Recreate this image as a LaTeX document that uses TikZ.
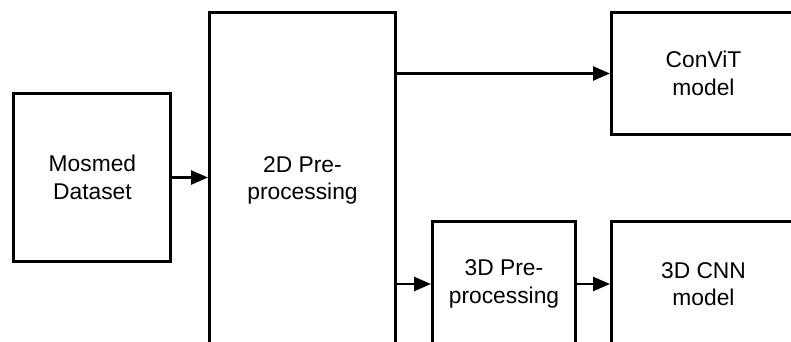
\documentclass[tikz,border=0pt]{standalone}
\usepackage{fontspec}
\setmainfont{Liberation Sans}
\usetikzlibrary{arrows.meta}

\begin{document}
\begin{tikzpicture}[x=1pt, y=-1pt,
    block/.style={draw, line width=3pt, align=center, inner sep=0pt, font=\fontsize{22.8}{27.5}\selectfont},
    msg/.style={-{Triangle[length=17pt,width=14pt]}, line width=2.5pt}
]
\useasboundingbox (0,0) rectangle (791,342);
\clip (0,0) rectangle (791,342);

\node[block, minimum width=157pt, minimum height=167pt] (ds) at (92.4,177.5) {Mosmed\\Dataset};
\node[block, minimum width=186pt, minimum height=335pt] (pre2d) at (302.5,180.5) {2D Pre-\\processing};
\node[block, minimum width=184pt, minimum height=121pt] (convit) at (703.5,73.5) {ConViT\\model};
\node[block, minimum width=143pt, minimum height=125pt] (pre3d) at (504,284) {3D Pre-\\processing};
\node[block, minimum width=184pt, minimum height=125pt] (cnn) at (703.5,284) {3D CNN\\model};

\draw[msg] (ds.east) -- (ds.east -| pre2d.west);
\draw[msg] (pre2d.east |- convit.west) -- (convit.west);
\draw[msg] (pre2d.east |- pre3d.west) -- (pre3d.west);
\draw[msg] (pre3d.east) -- (cnn.west);
\end{tikzpicture}
\end{document}
